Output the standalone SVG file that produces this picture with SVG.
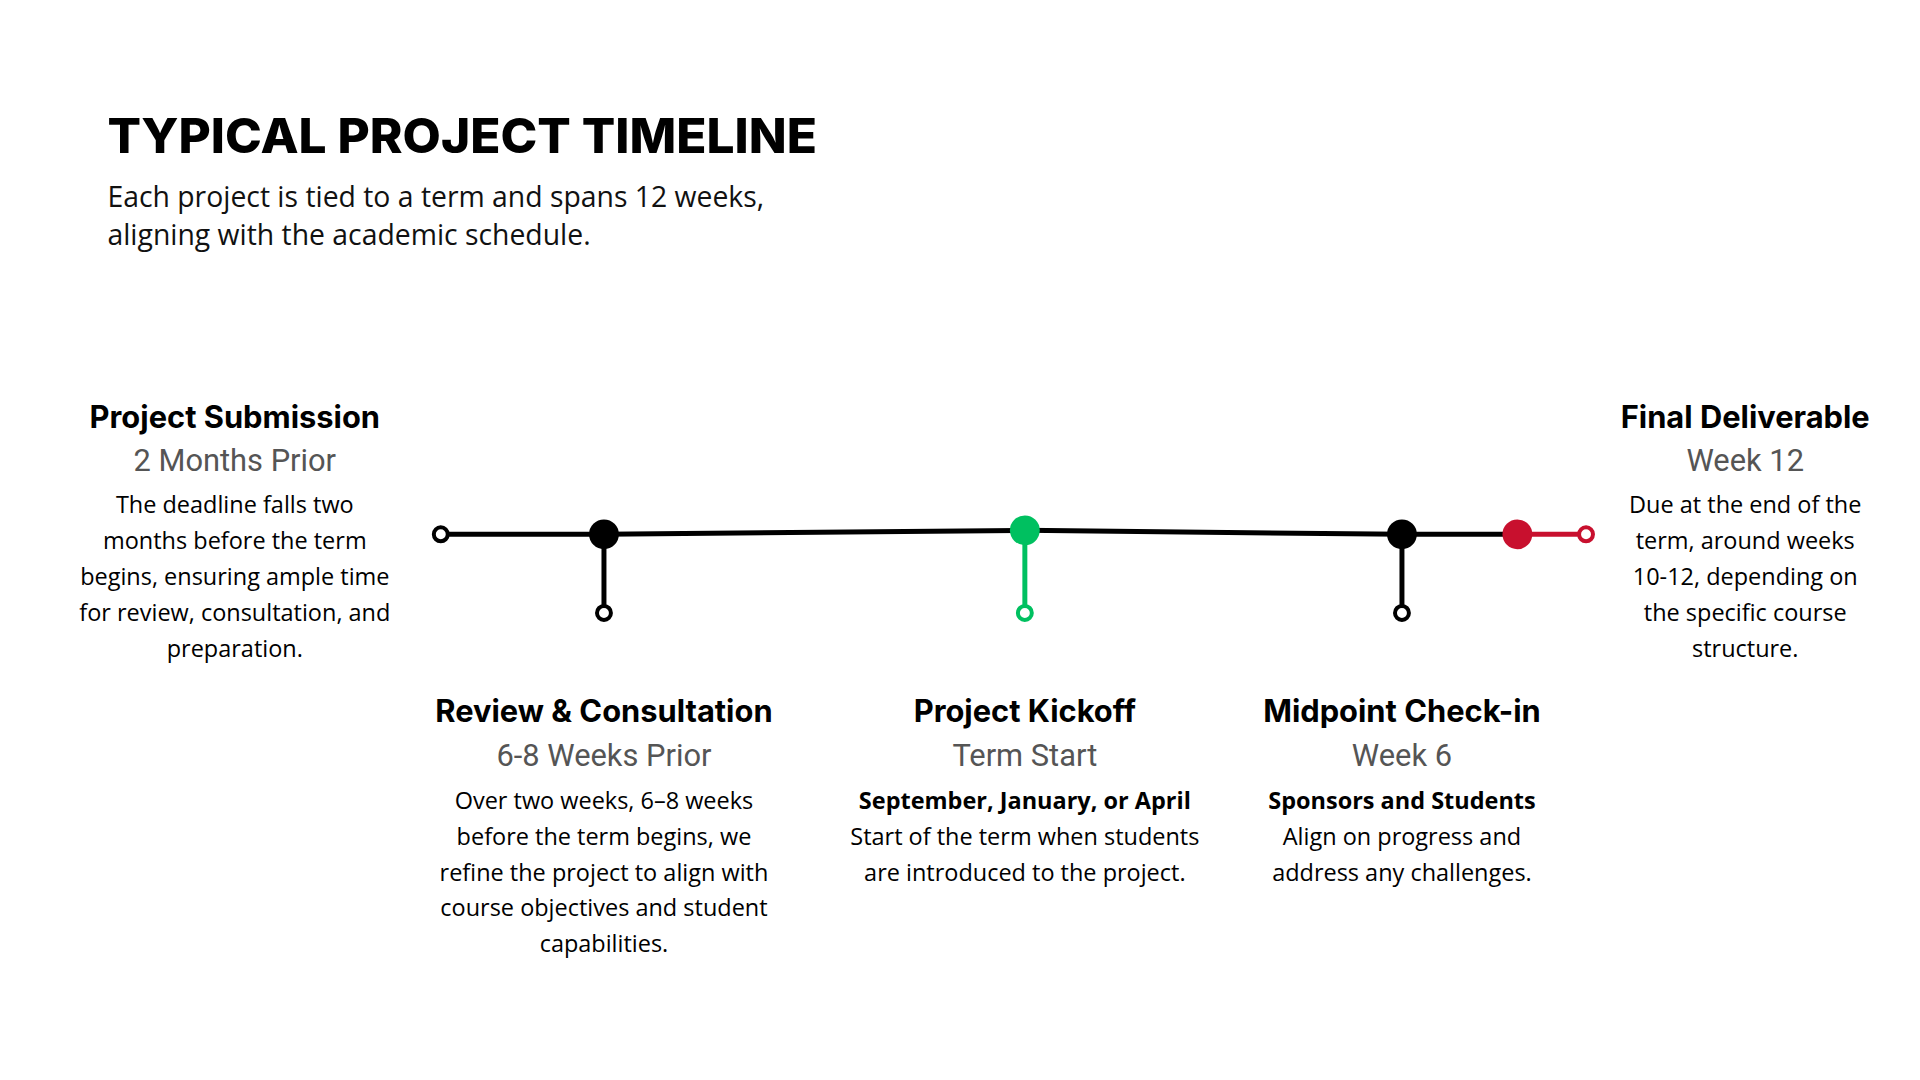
<svg xmlns="http://www.w3.org/2000/svg" width="1920" height="1080" viewBox="0 0 1920 1080">
<style>
.h{font-family:Inter,"Liberation Sans",sans-serif;font-weight:700;font-size:31px;fill:#000;text-anchor:middle}
.s{font-family:Roboto,"Liberation Sans",sans-serif;font-size:31px;fill:#555;text-anchor:middle}
.b{font-family:"Open Sans","Liberation Sans",sans-serif;font-size:23.6px;fill:#000;text-anchor:middle}
.bb{font-family:"Open Sans","Liberation Sans",sans-serif;font-size:23.6px;font-weight:700;fill:#000;text-anchor:middle}
.ln{fill:none;stroke-width:5}
.oc{fill:#fff;stroke-width:4}
</style>
<rect width="1920" height="1080" fill="#fff"/>
<g transform="scale(0.995)">
<g id="header">
<text x="108" y="154" font-family="Inter,'Liberation Sans',sans-serif" font-weight="800" font-size="48" textLength="713" lengthAdjust="spacingAndGlyphs">TYPICAL PROJECT TIMELINE</text>
<text font-family="'Open Sans','Liberation Sans',sans-serif" font-size="28.5" fill="#111"><tspan x="108" y="208">Each project is tied to a term and spans 12 weeks,</tspan><tspan x="108" y="246">aligning with the academic schedule.</tspan></text>
</g>
<g id="connectors">
<polyline class="ln" stroke="#000" points="443,537 607,537 1030,533 1409,537 1525,537"/>
<line class="ln" stroke="#c8102e" x1="1525" y1="537" x2="1594" y2="537"/>
<line class="ln" stroke="#000" x1="607" y1="537" x2="607" y2="615"/>
<line class="ln" stroke="#00c060" x1="1030" y1="533" x2="1030" y2="615"/>
<line class="ln" stroke="#000" x1="1409" y1="537" x2="1409" y2="615"/>
<circle class="oc" stroke="#000" cx="443" cy="537" r="7"/>
<circle class="oc" stroke="#000" cx="607" cy="616" r="7"/>
<circle class="oc" stroke="#00c060" cx="1030" cy="616" r="7"/>
<circle class="oc" stroke="#000" cx="1409" cy="616" r="7"/>
<circle class="oc" stroke="#c8102e" cx="1594" cy="537" r="7"/>
<circle cx="607" cy="537" r="15" fill="#000"/>
<circle cx="1030" cy="533" r="15" fill="#00c060"/>
<circle cx="1409" cy="537" r="15" fill="#000"/>
<circle cx="1525" cy="537" r="15" fill="#c8102e"/>
</g>
<g id="submission">
<text class="h" x="236" y="430">Project Submission</text>
<text class="s" x="236" y="473">2 Months Prior</text>
<text class="b"><tspan x="236" y="516">The deadline falls two</tspan><tspan x="236" y="552">months before the term</tspan><tspan x="236" y="588">begins, ensuring ample time</tspan><tspan x="236" y="624">for review, consultation, and</tspan><tspan x="236" y="660">preparation.</tspan></text>
</g>
<g id="review">
<text class="h" x="607" y="726">Review &amp; Consultation</text>
<text class="s" x="607" y="770">6-8 Weeks Prior</text>
<text class="b"><tspan x="607" y="813">Over two weeks, 6–8 weeks</tspan><tspan x="607" y="849">before the term begins, we</tspan><tspan x="607" y="885">refine the project to align with</tspan><tspan x="607" y="921">course objectives and student</tspan><tspan x="607" y="957">capabilities.</tspan></text>
</g>
<g id="kickoff">
<text class="h" x="1030" y="726">Project Kickoff</text>
<text class="s" x="1030" y="770">Term Start</text>
<text class="bb" x="1030" y="813">September, January, or April</text>
<text class="b"><tspan x="1030" y="849">Start of the term when students</tspan><tspan x="1030" y="885">are introduced to the project.</tspan></text>
</g>
<g id="midpoint">
<text class="h" x="1409" y="726">Midpoint Check-in</text>
<text class="s" x="1409" y="770">Week 6</text>
<text class="bb" x="1409" y="813">Sponsors and Students</text>
<text class="b"><tspan x="1409" y="849">Align on progress and</tspan><tspan x="1409" y="885">address any challenges.</tspan></text>
</g>
<g id="final">
<text class="h" x="1754" y="430">Final Deliverable</text>
<text class="s" x="1754" y="473">Week 12</text>
<text class="b"><tspan x="1754" y="516">Due at the end of the</tspan><tspan x="1754" y="552">term, around weeks</tspan><tspan x="1754" y="588">10-12, depending on</tspan><tspan x="1754" y="624">the specific course</tspan><tspan x="1754" y="660">structure.</tspan></text>
</g>
</g>
</svg>
